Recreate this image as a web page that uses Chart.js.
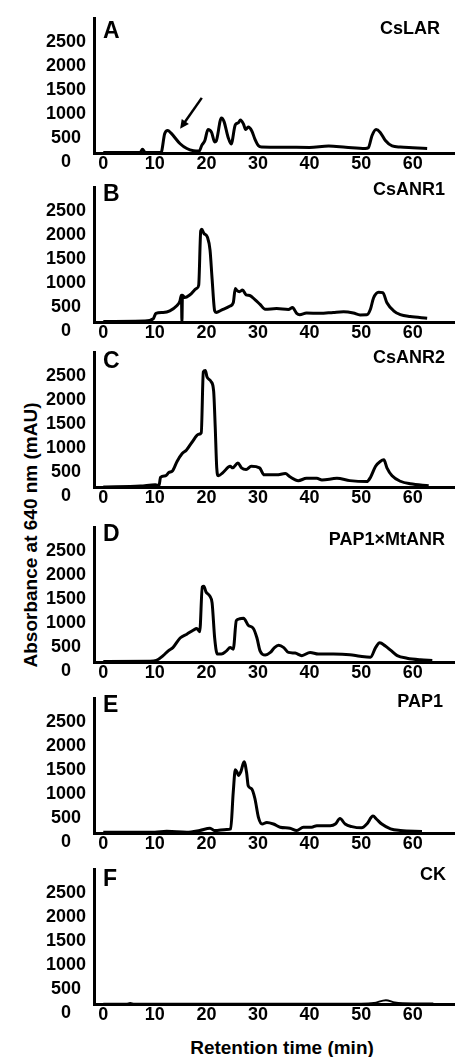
<!DOCTYPE html>
<html>
<head>
<meta charset="utf-8">
<script src="https://cdn.jsdelivr.net/npm/chart.js@4.4.0/dist/chart.umd.min.js"></script>
<style>
  html, body { margin: 0; padding: 0; background: #fff; }
  body { position: relative; width: 455px; height: 1057px; overflow: hidden;
         font-family: "Liberation Sans", Arial, sans-serif; font-weight: bold; color: #000; }
  canvas { position: absolute; left: 0; }
  .lbl { position: absolute; line-height: 1; white-space: nowrap; }
  .letter { font-size: 23px; left: 103px; }
  .name { font-size: 18px; }
  #ytitle { position: absolute; left: 30px; top: 535px; font-size: 19px; line-height: 1;
            white-space: nowrap; transform: translate(-50%, -50%) rotate(-90deg); }
  #xtitle { position: absolute; left: 282px; top: 1047px; font-size: 19px; line-height: 1;
            white-space: nowrap; transform: translate(-50%, -50%); }
</style>
</head>
<body>
<div id="ytitle">Absorbance at 640 nm (mAU)</div>
<div id="xtitle">Retention time (min)</div>
<script>
// tick labels
const xTicks = [0, 10, 20, 30, 40, 50, 60];
const yTicks = [0, 500, 1000, 1500, 2000, 2500];

const letters = ['A', 'B', 'C', 'D', 'E', 'F'];
const names = ['CsLAR', 'CsANR1', 'CsANR2', 'PAP1\u00D7MtANR', 'PAP1', 'CK'];

// A - CsLAR
const tA = [0, 5, 7.2, 7.6, 8.1, 11.2, 11.9, 12.5, 13.1, 14.9, 16.2, 17.5, 18.6, 19.1, 19.7, 20.3, 21.0, 21.6, 21.9, 22.9, 23.4, 24.2, 24.8, 25.6, 26.2, 26.6, 27.2, 27.6, 28.1, 28.8, 29.4, 30.1, 30.7, 35, 40, 43.7, 47, 50.8, 51.4, 52.1, 52.9, 53.7, 54.7, 56, 57.6, 60, 62.8];
const vA = [10, 10, 15, 80, 15, 10, 400, 470, 420, 193, 93, 47, 40, 160, 260, 490, 430, 230, 250, 730, 660, 330, 190, 590, 630, 690, 600, 490, 540, 460, 290, 150, 125, 120, 115, 145, 120, 93, 110, 360, 490, 430, 260, 147, 125, 110, 93];

// B - CsANR1
const tB = [0, 8, 9.7, 10.2, 11.6, 12.9, 14.2, 14.85, 15.15, 15.25, 15.35, 15.8, 16.8, 18.1, 18.5, 18.9, 19.1, 19.5, 20.2, 20.7, 21.1, 21.6, 21.9, 22.9, 24.6, 25.2, 25.6, 25.9, 26.4, 27.0, 27.7, 28.4, 29.4, 30.4, 31.4, 33.6, 35.9, 36.7, 37.5, 38.1, 39.4, 42, 44.6, 46.6, 48.5, 49.8, 51.1, 51.8, 52.4, 53.4, 54.2, 55.0, 56.3, 57.6, 59.5, 62.8];
const vB = [10, 20, 67, 180, 200, 233, 333, 434, 560, 0, 560, 510, 567, 700, 767, 1900, 1933, 1850, 1767, 1500, 900, 233, 200, 247, 333, 400, 700, 660, 633, 667, 567, 553, 467, 367, 267, 280, 260, 300, 180, 153, 187, 180, 200, 213, 187, 147, 150, 267, 500, 620, 613, 400, 233, 153, 113, 80];

// C - CsANR2
const tC = [0, 7.2, 10.1, 10.8, 11.1, 12.1, 12.7, 13.4, 14.3, 15.3, 16.1, 17.2, 18.5, 19.0, 19.4, 19.8, 20.1, 20.9, 21.4, 21.7, 22.0, 22.3, 23.2, 24.6, 25.1, 26.1, 26.8, 27.7, 28.7, 30.3, 31.2, 33.6, 35.3, 36.2, 37.8, 39.4, 41.4, 42.4, 45.3, 47.8, 51.1, 51.8, 52.8, 53.7, 54.4, 55.0, 56.0, 57.6, 59.5, 63.1];
const vC = [0, 20, 47, 30, 200, 233, 300, 333, 533, 700, 767, 933, 1100, 1133, 2400, 2433, 2300, 2200, 2000, 1267, 400, 233, 300, 433, 400, 500, 400, 367, 433, 400, 253, 253, 280, 213, 133, 180, 180, 147, 180, 133, 113, 200, 433, 533, 567, 400, 233, 120, 67, 27];

// D - PAP1 x MtANR
const tD = [0, 9, 10.3, 11.6, 12.6, 13.5, 14.9, 16.2, 17.5, 18.1, 18.7, 19.2, 19.5, 19.9, 20.7, 21.1, 21.6, 22.1, 22.9, 23.9, 24.6, 25.2, 25.8, 26.4, 27.2, 28.1, 29.1, 29.8, 30.4, 31.4, 32.4, 33.2, 34.0, 35.0, 35.9, 37.2, 38.5, 40.1, 41.7, 44.6, 47.8, 49.8, 51.8, 52.8, 53.6, 54.7, 55.7, 57.0, 58.9, 61.5, 63.8];
const vD = [10, 15, 33, 133, 233, 300, 500, 580, 667, 700, 633, 1567, 1580, 1467, 1367, 1233, 500, 167, 167, 233, 300, 267, 867, 900, 913, 767, 700, 500, 233, 147, 200, 300, 347, 300, 200, 187, 133, 200, 167, 167, 153, 120, 100, 300, 400, 333, 247, 133, 80, 47, 33];

// E - PAP1
const tE = [0, 10, 12.3, 16.2, 18.7, 20.7, 21.6, 23.9, 24.7, 25.2, 25.6, 25.9, 26.2, 26.7, 27.3, 27.8, 28.1, 28.8, 29.4, 30.1, 30.8, 31.7, 33.0, 34.3, 36.2, 37.5, 38.8, 40.4, 41.4, 44.0, 45.0, 45.9, 46.9, 48.2, 50.1, 51.1, 52.3, 53.0, 54.0, 55.7, 57.6, 61.8];
const vE = [15, 15, 35, 15, 53, 100, 50, 73, 87, 853, 1320, 1280, 1200, 1287, 1487, 1253, 987, 920, 720, 320, 187, 220, 187, 120, 100, 53, 120, 120, 153, 153, 187, 300, 187, 133, 107, 187, 353, 287, 187, 87, 53, 33];

// F - CK
const tF = [0, 4.5, 5.2, 6, 10, 30, 50, 52.5, 54.8, 56.5, 58, 64];
const vF = [5, 5, 20, 5, 5, 5, 5, 20, 80, 30, 15, 10];

// arrow in panel A (data units)
const arrowFrom = [19.1, 1150];
const arrowTo = [14.9, 505];

const series = [[tA, vA], [tB, vB], [tC, vC], [tD, vD], [tE, vE], [tF, vF]];

// layout of each panel (pixels)
const canvasTop = [0, 169, 334, 509, 680, 851];
const letterTop = [19, 13, 15, 13, 13, 16];
const nameTop = [19, 11, 14, 21, 12, 14];
const nameRight = [15, 10, 10, 10, 12, 9];

Chart.defaults.font.family = '"Liberation Sans", Arial, sans-serif';
Chart.defaults.font.weight = 'bold';
Chart.defaults.color = '#000';

const arrowPlugin = {
  id: 'arrow',
  afterDatasetsDraw(chart) {
    const { ctx, scales: { x, y } } = chart;
    const x1 = x.getPixelForValue(arrowFrom[0]), y1 = y.getPixelForValue(arrowFrom[1]);
    const x2 = x.getPixelForValue(arrowTo[0]), y2 = y.getPixelForValue(arrowTo[1]);
    const ang = Math.atan2(y2 - y1, x2 - x1);
    const head = 10;
    ctx.save();
    ctx.strokeStyle = '#000';
    ctx.fillStyle = '#000';
    ctx.lineWidth = 2.5;
    ctx.beginPath();
    ctx.moveTo(x1, y1);
    ctx.lineTo(x2 - Math.cos(ang) * head * 0.8, y2 - Math.sin(ang) * head * 0.8);
    ctx.stroke();
    ctx.beginPath();
    ctx.moveTo(x2, y2);
    ctx.lineTo(x2 - head * Math.cos(ang - 0.45), y2 - head * Math.sin(ang - 0.45));
    ctx.lineTo(x2 - head * Math.cos(ang + 0.45), y2 - head * Math.sin(ang + 0.45));
    ctx.closePath();
    ctx.fill();
    ctx.restore();
  }
};

series.forEach(([t, v], i) => {
  const cv = document.createElement('canvas');
  cv.width = 455;
  cv.height = 172;
  cv.style.top = canvasTop[i] + 'px';
  document.body.appendChild(cv);

  const let_ = document.createElement('div');
  let_.className = 'lbl letter';
  let_.style.top = (canvasTop[i] + letterTop[i]) + 'px';
  let_.textContent = letters[i];
  document.body.appendChild(let_);

  const nm = document.createElement('div');
  nm.className = 'lbl name';
  nm.style.top = (canvasTop[i] + nameTop[i]) + 'px';
  nm.style.right = nameRight[i] + 'px';
  nm.textContent = names[i];
  document.body.appendChild(nm);

  new Chart(cv.getContext('2d'), {
    type: 'line',
    data: {
      datasets: [{
        data: t.map((tt, k) => ({ x: tt, y: v[k] })),
        borderColor: '#000',
        borderWidth: i === 5 ? 2 : 3,
        pointRadius: 0,
        fill: false,
        cubicInterpolationMode: 'monotone'
      }]
    },
    options: {
      responsive: false,
      animation: false,
      devicePixelRatio: 1,
      layout: { padding: { top: 14, left: 0, right: 0, bottom: 0 } },
      plugins: { legend: { display: false }, tooltip: { enabled: false } },
      scales: {
        x: {
          type: 'linear',
          min: -1.8,
          max: 68.2,
          grid: { display: false, drawTicks: false },
          border: { display: true, color: '#000', width: 3 },
          ticks: { font: { size: 18, weight: 'bold' }, padding: 0, maxRotation: 0,
                   callback: val => String(val) },
          afterBuildTicks: s => { s.ticks = xTicks.map(val => ({ value: val })); },
          afterFit: s => { s.height = 19; }
        },
        y: {
          min: 0,
          max: 2800,
          grid: { display: false, drawTicks: false },
          border: { display: true, color: '#000', width: 3 },
          ticks: { font: { size: 18, weight: 'bold' }, padding: 8, crossAlign: 'center', labelOffset: 9,
                   callback: val => String(val) },
          afterBuildTicks: s => { s.ticks = yTicks.map(val => ({ value: val })); },
          afterFit: s => { s.width = 94; }
        }
      }
    },
    plugins: i === 0 ? [arrowPlugin] : []
  });
});
</script>
</body>
</html>
